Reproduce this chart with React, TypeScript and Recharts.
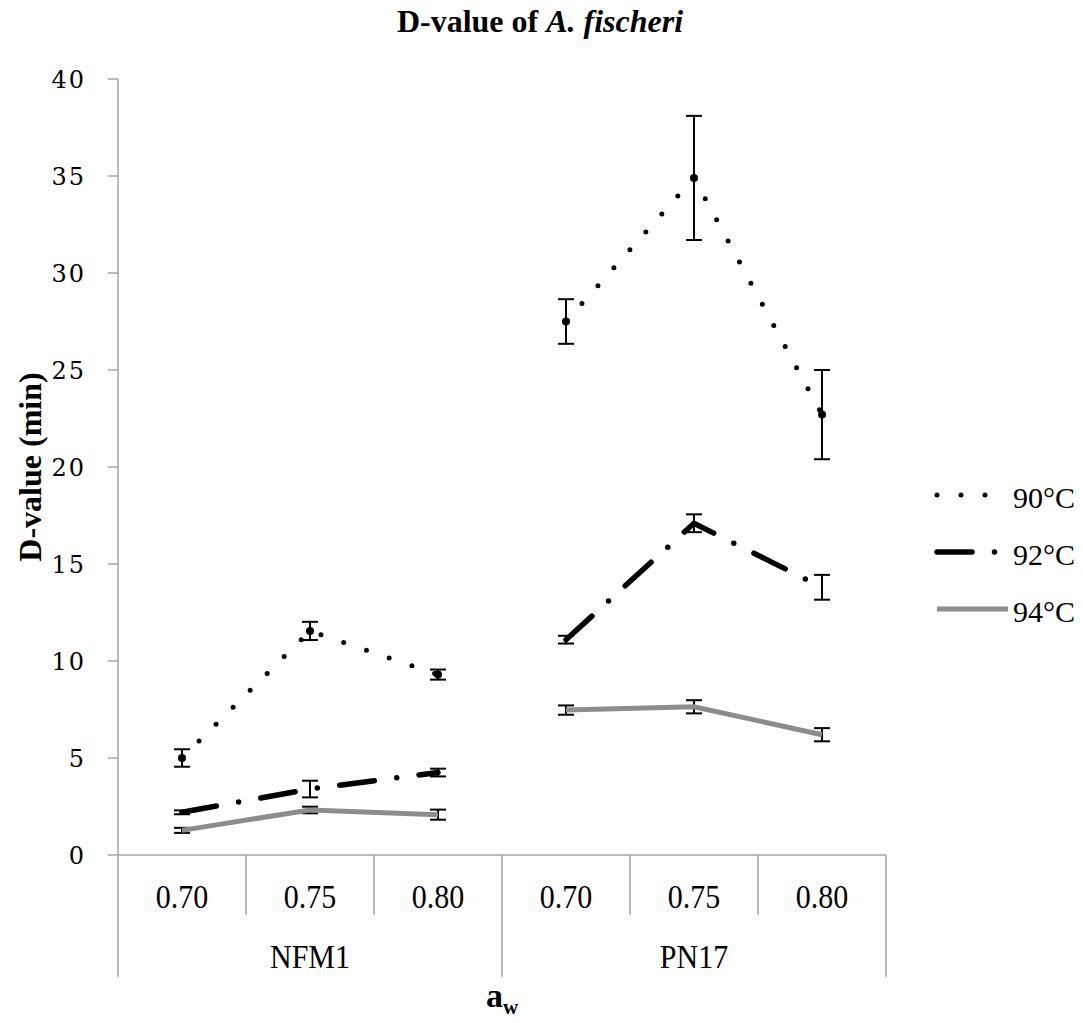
import React from "react";
import { LineChart, Line, XAxis, YAxis, ErrorBar, Legend } from "recharts";

// a_w levels within each strain, and the strain of each column
const categories = ["0.70", "0.75", "0.80", "0.70", "0.75", "0.80"];
const groups = ["NFM1", "NFM1", "NFM1", "PN17", "PN17", "PN17"];
const yTicks = [0, 5, 10, 15, 20, 25, 30, 35, 40];

// D-values (min) and error bars
const d90 = [5.0, 11.55, 9.3, 27.5, 34.9, 22.7];
const e90 = [0.45, 0.47, 0.26, 1.15, 3.2, 2.3];
const d92 = [2.2, 3.4, 4.25, 11.1, 17.1, 13.8];
const e92 = [0.1, 0.43, 0.2, 0.2, 0.46, 0.64];
const d94 = [1.27, 2.32, 2.08, 7.47, 7.64, 6.2];
const e94 = [0.13, 0.17, 0.26, 0.24, 0.34, 0.34];

const W = 1083;
const H = 1023;
const M = { top: 79, right: 197, bottom: 0, left: 0 };
const Y_W = 118;
const X_H = 168;
const BAND = (W - M.left - M.right - Y_W) / categories.length;
const GREY = "#a6a6a6";
const SERIF = "'Liberation Serif', 'Times New Roman', serif";

const series = [
  { key: "90", name: "90°C", color: "#000", width: 5, dash: "0 24", values: d90, errors: e90, dot: true },
  { key: "92", name: "92°C", color: "#000", width: 5.5, dash: "35 22.5 0 22.5", values: d92, errors: e92, dot: false },
  { key: "94", name: "94°C", color: "#8c8c8c", width: 5, dash: undefined, values: d94, errors: e94, dot: false },
];

// one line per strain so the curve breaks between NFM1 and PN17
const data = categories.map((aw, i) => {
  const row: Record<string, any> = { idx: i, aw, group: groups[i] };
  series.forEach((s) => {
    const first = groups[i] === groups[0];
    row["a" + s.key] = first ? s.values[i] : null;
    row["b" + s.key] = first ? null : s.values[i];
    row["e" + s.key] = s.errors[i];
  });
  return row;
});

const CatTick = (props: any) => {
  const { x, y, payload } = props;
  const index = payload.index ?? props.index;
  const half = BAND / 2;
  const startsGroup = index === 0 || groups[index] !== groups[index - 1];
  const last = index === categories.length - 1;
  let groupLabel = null;
  if (startsGroup) {
    let n = 0;
    while (groups[index + n] === groups[index]) n++;
    groupLabel = (
      <text
        transform={`translate(${x + ((n - 1) / 2) * BAND},${y + 113}) scale(1,1.1)`}
        textAnchor="middle"
        fontFamily={SERIF}
        fontSize={30}
        fill="#000"
      >
        {groups[index]}
      </text>
    );
  }
  return (
    <g>
      <text
        transform={`translate(${x},${y + 53}) scale(1,1.1)`}
        textAnchor="middle"
        fontFamily={SERIF}
        fontSize={30}
        fill="#000"
      >
        {categories[index]}
      </text>
      <line x1={x - half} x2={x - half} y1={y} y2={y + (startsGroup ? 122 : 60)} stroke={GREY} strokeWidth={1.5} />
      {last && <line x1={x + half} x2={x + half} y1={y} y2={y + 122} stroke={GREY} strokeWidth={1.5} />}
      {groupLabel}
    </g>
  );
};

const AwLabel = (props: any) => {
  const { x, y, width } = props.viewBox;
  return (
    <text x={x + width / 2} y={y + 152} textAnchor="middle" fontFamily={SERIF} fontWeight="bold" fill="#000">
      <tspan fontSize={34}>a</tspan>
      <tspan fontSize={21} dy={7}>w</tspan>
    </text>
  );
};

const YLabel = () => (
  <text
    x={41}
    y={467}
    transform="rotate(-90 41 467)"
    textAnchor="middle"
    fontFamily={SERIF}
    fontWeight="bold"
    fontSize={32}
    fill="#000"
  >
    D-value (min)
  </text>
);

const LegendContent = () => (
  <svg width={153} height={160}>
    {series.map((s, i) => (
      <g key={s.key}>
        <line
          x1={7}
          x2={78}
          y1={22 + i * 57}
          y2={22 + i * 57}
          stroke={s.color}
          strokeWidth={s.width}
          strokeDasharray={s.dash}
          strokeLinecap={s.dash ? "round" : "butt"}
        />
        <text x={83} y={24 + i * 57} dy="0.35em" fontFamily={SERIF} fontSize={30} fill="#000">
          {s.name}
        </text>
      </g>
    ))}
  </svg>
);

const lines = [];
for (const s of series) {
  for (const p of ["a", "b"]) {
    lines.push(
      <Line
        key={p + s.key}
        dataKey={p + s.key}
        name={s.name}
        type="linear"
        stroke={s.color}
        strokeWidth={s.width}
        strokeDasharray={s.dash}
        strokeLinecap={s.dash ? "round" : "butt"}
        dot={s.dot ? { r: 4, fill: "#000", stroke: "none", strokeDasharray: "" } : false}
        activeDot={false}
        legendType="none"
        isAnimationActive={false}
      >
        <ErrorBar dataKey={"e" + s.key} width={8} stroke="#000" strokeWidth={2} direction="y" />
      </Line>
    );
  }
}

export default function App() {
  return (
    <div style={{ position: "absolute", left: 0, top: 0, width: W, height: H, background: "#fff" }}>
      <LineChart width={W} height={H} data={data} margin={M}>
        <text x={540} y={32} textAnchor="middle" fontFamily={SERIF} fontWeight="bold" fontSize={32} fill="#000">
          D-value of <tspan fontStyle="italic">A. fischeri</tspan>
        </text>
        <XAxis
          dataKey="idx"
          type="category"
          padding={{ left: BAND / 2, right: BAND / 2 }}
          interval={0}
          height={X_H}
          tickLine={false}
          tickSize={0}
          tickMargin={0}
          axisLine={{ stroke: GREY, strokeWidth: 1.5 }}
          tick={CatTick}
          label={{ content: AwLabel }}
        />
        <YAxis
          width={Y_W}
          domain={[0, 40]}
          ticks={yTicks}
          interval={0}
          tickSize={10}
          tickMargin={22}
          axisLine={{ stroke: GREY, strokeWidth: 1.5 }}
          tickLine={{ stroke: GREY, strokeWidth: 1.5 }}
          tick={{ fontFamily: "'DejaVu Serif', serif", fontSize: 24, fill: "#000", letterSpacing: 2 }}
          label={{ content: YLabel }}
        />
        <Legend
          layout="horizontal"
          verticalAlign="middle"
          align="center"
          content={LegendContent}
          wrapperStyle={{ left: 930, top: 473, width: 153, height: 160 }}
        />
        {lines}
      </LineChart>
    </div>
  );
}
